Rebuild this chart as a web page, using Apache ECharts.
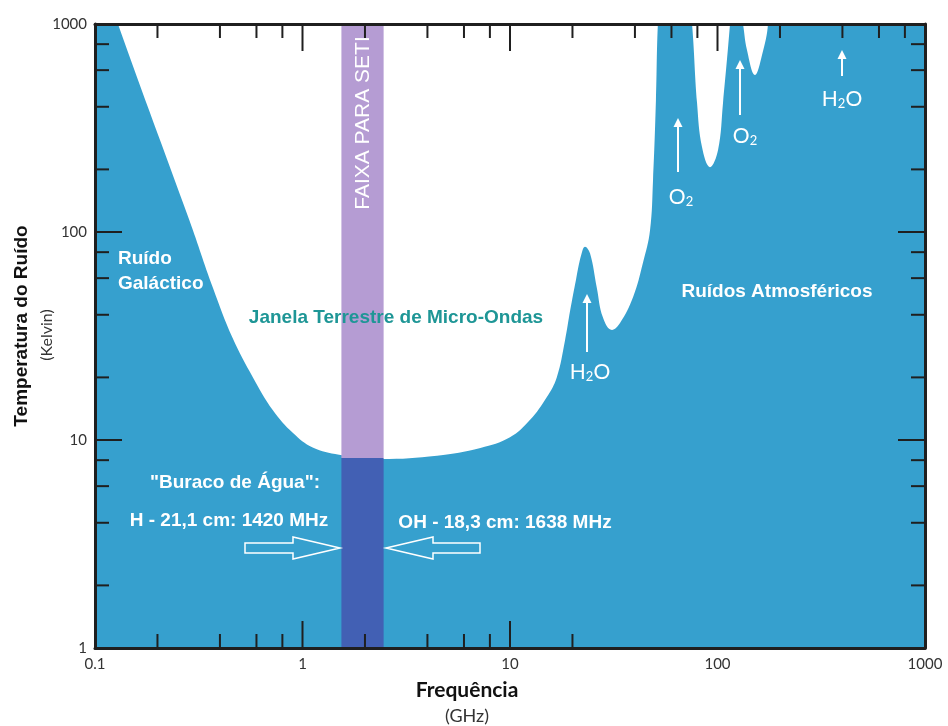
<!DOCTYPE html>
<html><head><meta charset="utf-8">
<script src="https://cdn.jsdelivr.net/npm/echarts@6/dist/echarts.min.js"></script>
<style>html,body{margin:0;padding:0;background:#fff}#c{width:948px;height:726px}</style>
</head><body><div id="c"></div>
<script>
// ---- data (frequency in GHz, noise temperature in K) ----
const freqGHz = [0.1, 0.129, 0.285, 0.37, 0.46, 0.577, 0.72, 0.9, 1.12, 1.5, 2.4, 4.45, 7.2, 10, 12.5, 15, 16.8, 18.4, 19.5, 20.8, 22, 23, 24.3, 26.2, 28, 31, 33.9, 39.2, 43.7, 47.3, 48.9, 50.5, 51.6, 55, 60, 68, 75.4, 79.7, 84.2, 92, 100.6, 106.3, 114.9, 118, 124, 132.7, 138.7, 151.6, 163.9, 175.1, 183, 300, 1000];
const noiseK  = [2200, 1000, 114, 54, 31, 20, 13.9, 10.8, 9.2, 8.5, 8.1, 8.4, 9.15, 10.3, 12.5, 16, 20, 30, 42, 59, 77, 85, 79, 54, 39, 33.8, 36.5, 48.7, 71, 102, 178, 430, 1000, 3000, 5000, 3000, 1000, 417, 256, 205, 248, 417, 1000, 1500, 1500, 1000, 750, 569, 710, 1000, 3000, 3000, 3000];

const xTickValues = [0.1, 1, 10, 100, 1000];
const xTickLabels = ['0.1', '1', '10', '100', '1000'];
const yTickValues = [1, 10, 100, 1000];
const yTickLabels = ['1', '10', '100', '1000'];

const bottomTicks = [0.2, 0.4, 0.6, 0.8, 1, 2, 4, 6, 8, 10, 20];
const topTicks = [0.2, 0.4, 0.6, 0.8, 1, 2, 4, 6, 8, 10, 20, 40, 60, 80, 100, 200, 400, 600, 800];
const sideTicks = [2, 4, 6, 8, 10, 20, 40, 60, 80, 100, 200, 400, 600, 800];

const setiBandGHz = [1.54, 2.46];
const waterHoleFloorK = 8.2;

const xMin = 0.1, xMax = 1000, yMin = 1, yMax = 1000;

// ---- styles ----
const BLUE = '#36A0CE';
const PURPLE_LIGHT = '#B59CD3';
const PURPLE_DARK = '#4260B4';
const TEAL = '#1E9696';
const AXIS = '#1f1f1f';
const SANS = '"Liberation Sans", Arial, sans-serif';
const HUM = 'Lato, "Open Sans", sans-serif';

function isDecade(v) { return Math.abs(Math.log10(v) - Math.round(Math.log10(v))) < 1e-9; }
function labelFor(values, labels) {
  return function (v) {
    for (let i = 0; i < values.length; i++) {
      if (Math.abs(Math.log10(v) - Math.log10(values[i])) < 1e-6) return labels[i];
    }
    return '';
  };
}

const curve = freqGHz.map((f, i) => [f, noiseK[i]]);
const xTickData = bottomTicks.map(v => [v, yMin, 0]).concat(topTicks.map(v => [v, yMax, 1]));
const yTickData = sideTicks.map(v => [xMin, v, 0]).concat(sideTicks.map(v => [xMax, v, 1]));

const chart = echarts.init(document.getElementById('c'), null, { renderer: 'canvas' });

function sub(main, x, y) {
  return { type: 'text', z: 100, x: x, y: y, style: {
    text: main, align: 'center', verticalAlign: 'middle', fill: '#fff',
    rich: { a: { fontFamily: HUM, fontSize: 21, fill: '#fff' }, s: { fontFamily: HUM, fontSize: 13, fill: '#fff', padding: [9, 0, 0, 0] } } } };
}
function upArrow(x, tipY, bottomY) {
  return { type: 'group', z: 100, children: [
    { type: 'line', z: 100, shape: { x1: x, y1: tipY + 6, x2: x, y2: bottomY }, style: { stroke: '#fff', lineWidth: 2 } },
    { type: 'polygon', z: 100, shape: { points: [[x, tipY], [x - 4.5, tipY + 9], [x + 4.5, tipY + 9]] }, style: { fill: '#fff' } }
  ] };
}
function txt(text, x, y, font, fill, extra) {
  return Object.assign({ type: 'text', z: 100, x: x, y: y, style: { text: text, font: font, fill: fill, align: 'center', verticalAlign: 'middle' } }, extra || {});
}

const option = {
  animation: false,
  backgroundColor: '#fff',
  grid: { left: 95, top: 24, width: 830, height: 624 },
  xAxis: [
    { type: 'log', min: xMin, max: xMax, logBase: 10, z: 10,
      axisLine: { show: true, lineStyle: { color: AXIS, width: 3 } },
      axisTick: { show: false }, splitLine: { show: false },
      axisLabel: { formatter: labelFor(xTickValues, xTickLabels), fontFamily: HUM, fontSize: 15, color: '#333', margin: 9 } },
    { type: 'log', min: xMin, max: xMax, logBase: 10, position: 'top', z: 10,
      axisLine: { show: true, lineStyle: { color: AXIS, width: 3 } },
      axisTick: { show: false }, splitLine: { show: false }, axisLabel: { show: false } }
  ],
  yAxis: [
    { type: 'log', min: yMin, max: yMax, logBase: 10, z: 10,
      axisLine: { show: true, lineStyle: { color: AXIS, width: 3 } },
      axisTick: { show: false }, splitLine: { show: false },
      axisLabel: { formatter: labelFor(yTickValues, yTickLabels), fontFamily: HUM, fontSize: 15, color: '#333', margin: 8 } },
    { type: 'log', min: yMin, max: yMax, logBase: 10, position: 'right', z: 10,
      axisLine: { show: true, lineStyle: { color: AXIS, width: 3 } },
      axisTick: { show: false }, splitLine: { show: false }, axisLabel: { show: false } }
  ],
  series: [
    { type: 'line', data: curve, smooth: 0.4, showSymbol: false, clip: true, z: 2,
      lineStyle: { width: 0, color: BLUE }, itemStyle: { color: BLUE },
      areaStyle: { color: BLUE, opacity: 1, origin: 'start' }, silent: true },
    { type: 'custom', z: 3, silent: true, clip: true,
      data: [[setiBandGHz[0], waterHoleFloorK, setiBandGHz[1]]],
      encode: { x: [0, 2], y: 1 },
      renderItem: function (params, api) {
        const a = api.coord([api.value(0), yMin]);
        const s = api.coord([api.value(2), api.value(1)]);
        const t = api.coord([api.value(2), yMax]);
        return { type: 'group', children: [
          { type: 'rect', shape: { x: a[0], y: t[1], width: s[0] - a[0], height: s[1] - t[1] }, style: { fill: PURPLE_LIGHT } },
          { type: 'rect', shape: { x: a[0], y: s[1], width: s[0] - a[0], height: a[1] - s[1] }, style: { fill: PURPLE_DARK } }
        ] };
      } },
    { type: 'custom', z: 12, silent: true, data: xTickData,
      renderItem: function (params, api) {
        const v = api.value(0);
        const p = api.coord([v, api.value(1)]);
        const len = isDecade(v) ? 27 : 14;
        const dir = api.value(2) === 0 ? -1 : 1;
        return { type: 'line', shape: { x1: p[0], y1: p[1], x2: p[0], y2: p[1] + dir * len }, style: { stroke: AXIS, lineWidth: 2 } };
      } },
    { type: 'custom', z: 12, silent: true, data: yTickData,
      renderItem: function (params, api) {
        const v = api.value(1);
        const p = api.coord([api.value(0), v]);
        const len = isDecade(v) ? 27 : 14;
        const dir = api.value(2) === 0 ? 1 : -1;
        return { type: 'line', shape: { x1: p[0], y1: p[1], x2: p[0] + dir * len, y2: p[1] }, style: { stroke: AXIS, lineWidth: 2 } };
      } }
  ],
  graphic: [
    txt('Temperatura do Ruído', 22, 326, 'bold 19px ' + SANS, '#111', { rotation: Math.PI / 2 }),
    txt('(Kelvin)', 47, 335, '16px ' + HUM, '#333', { rotation: Math.PI / 2 }),
    txt('Frequência', 467, 690, 'bold 21px ' + HUM, '#111'),
    txt('(GHz)', 467, 716, '18px ' + HUM, '#333'),
    txt('FAIXA PARA SETI', 363, 123, '21px ' + SANS, '#fff', { rotation: Math.PI / 2 }),
    { type: 'text', z: 100, x: 118, y: 259, style: { text: 'Ruído', font: 'bold 19px ' + SANS, fill: '#fff', align: 'left', verticalAlign: 'middle' } },
    { type: 'text', z: 100, x: 118, y: 284, style: { text: 'Galáctico', font: 'bold 19px ' + SANS, fill: '#fff', align: 'left', verticalAlign: 'middle' } },
    txt('Janela Terrestre de Micro-Ondas', 396, 318, 'bold 19px ' + SANS, TEAL),
    txt('Ruídos Atmosféricos', 777, 292, 'bold 19px ' + SANS, '#fff'),
    txt('"Buraco de Água":', 235, 483, 'bold 19px ' + SANS, '#fff'),
    txt('H - 21,1 cm: 1420 MHz', 229, 521, 'bold 19px ' + SANS, '#fff'),
    txt('OH - 18,3 cm: 1638 MHz', 505, 523, 'bold 19px ' + SANS, '#fff'),
    { type: 'polygon', z: 100, shape: { points: [[245, 543], [293, 543], [293, 537], [340, 548], [293, 559], [293, 553], [245, 553]] }, style: { fill: 'none', stroke: '#fff', lineWidth: 1.5 } },
    { type: 'polygon', z: 100, shape: { points: [[480, 543], [433, 543], [433, 537], [386, 548], [433, 559], [433, 553], [480, 553]] }, style: { fill: 'none', stroke: '#fff', lineWidth: 1.5 } },
    upArrow(587, 294, 352), sub('{a|H}{s|2}{a|O}', 590, 372),
    upArrow(678, 118, 172), sub('{a|O}{s|2}', 681, 197),
    upArrow(740, 60, 115), sub('{a|O}{s|2}', 745, 136),
    upArrow(842, 50, 76), sub('{a|H}{s|2}{a|O}', 842, 99)
  ]
};
chart.setOption(option);
</script>
</body></html>
